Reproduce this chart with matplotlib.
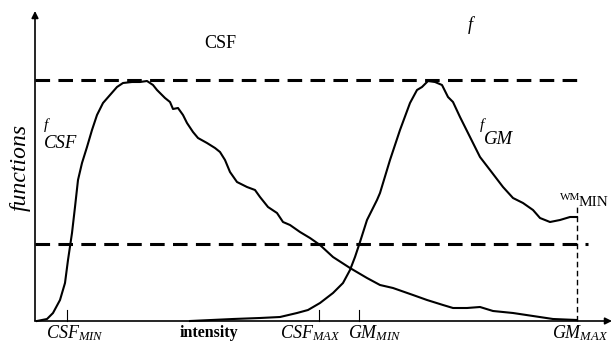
import matplotlib
matplotlib.use("Agg")
import matplotlib.pyplot as plt

# intensity / function values (origin at the axes corner)
csf_x = [2, 12, 18, 25, 30, 33, 37, 40, 43, 47, 52, 57, 62, 68, 75, 82, 88, 97, 105, 112,
         118, 122, 130, 135, 138, 143, 148, 152, 158, 163, 172, 180, 185, 190, 195, 202,
         212, 220, 225, 233, 242, 248, 255, 265, 275, 285, 298, 315, 332, 345, 358, 378,
         392, 408, 418, 432, 445, 458, 478, 498, 518, 542]
csf_y = [0, 2, 8, 21, 38, 61, 88, 114, 141, 158, 174, 191, 206, 218, 226, 234, 238, 239,
         239, 240, 236, 231, 223, 219, 212, 213, 206, 198, 189, 183, 178, 173, 169, 161,
         149, 139, 134, 131, 124, 114, 108, 99, 96, 89, 83, 76, 64, 53, 43, 36, 33, 26,
         21, 16, 13, 13, 14, 10, 8, 5, 2, 1]

gm_x = [155, 198, 225, 245, 262, 273, 285, 298, 308, 315, 320, 325, 332, 342, 345, 355,
        365, 375, 382, 387, 393, 400, 407, 413, 418, 425, 435, 445, 455, 468, 478, 488,
        498, 505, 515, 525, 535, 542]
gm_y = [0, 2, 3, 4, 8, 11, 18, 28, 38, 51, 64, 79, 101, 121, 128, 161, 191, 218, 231,
        234, 240, 239, 236, 224, 219, 204, 184, 164, 151, 134, 123, 118, 111, 103, 99,
        101, 104, 104]

upper_level = 241
lower_level = 77
tick_pos = [32, 284, 324]
gm_max = 542

plt.rcParams['font.family'] = ['Liberation Serif', 'DejaVu Serif']
plt.rcParams['mathtext.fontset'] = 'custom'
plt.rcParams['mathtext.rm'] = 'Liberation Serif'
plt.rcParams['mathtext.it'] = 'Liberation Serif:italic'
plt.rcParams['lines.scale_dashes'] = False

fig = plt.figure(figsize=(6.13, 3.44), dpi=100)
ax = fig.add_axes([0, 0, 1, 1])
ax.set_xlim(-35, 578)
ax.set_ylim(-23, 321)
ax.axis('off')

# axes with arrow heads
ax.annotate('', xy=(577, 0), xytext=(0, 0),
            arrowprops=dict(arrowstyle='-|>', lw=1.2, color='k', shrinkA=0, shrinkB=0,
                            mutation_scale=10))
ax.annotate('', xy=(0, 310), xytext=(0, 0),
            arrowprops=dict(arrowstyle='-|>', lw=1.2, color='k', shrinkA=0, shrinkB=0,
                            mutation_scale=10))

# threshold lines
ax.plot([0, 550], [upper_level, upper_level], color='k', lw=2.2, ls=(0, (10.5, 6)))
ax.plot([0, 553], [lower_level, lower_level], color='k', lw=2.2, ls=(0, (10.5, 6)))
ax.plot([gm_max, gm_max], [0, 114], color='k', lw=1.0, ls=(0, (4, 2.5)))

# curves
ax.plot(csf_x, csf_y, color='k', lw=1.5)
ax.plot(gm_x, gm_y, color='k', lw=1.5)

for t in tick_pos:
    ax.plot([t, t], [0, 11], color='k', lw=0.8)

# labels
ax.text(185, 278, 'CSF', fontsize=13, ha='center', va='center')
ax.text(435, 296, 'f', fontsize=13, style='italic', ha='center', va='center')
ax.text(-15, 154, 'functions', fontsize=17, style='italic', rotation=90,
        ha='center', va='center')
ax.text(11, 196, 'f', fontsize=11, style='italic', ha='center', va='center')
ax.text(9, 177, 'CSF', fontsize=13.5, style='italic', ha='left', va='center')
ax.text(447, 196, 'f', fontsize=11, style='italic', ha='center', va='center')
ax.text(449, 181, 'GM', fontsize=13.5, style='italic', ha='left', va='center')
ax.text(525, 123, 'WM', fontsize=8, ha='left', va='center')
ax.text(544, 118, 'MIN', fontsize=11, ha='left', va='center')

ax.text(40, -17, r'$CSF_{MIN}$', fontsize=13, ha='center', va='baseline')
ax.text(174, -16, 'intensity', fontsize=11.5, fontweight='bold', ha='center', va='baseline')
ax.text(275, -17, r'$CSF_{MAX}$', fontsize=13, ha='center', va='baseline')
ax.text(340, -17, r'$GM_{MIN}$', fontsize=13, ha='center', va='baseline')
ax.text(545, -17, r'$GM_{MAX}$', fontsize=13, ha='center', va='baseline')

fig.savefig('out.png', dpi=100)
